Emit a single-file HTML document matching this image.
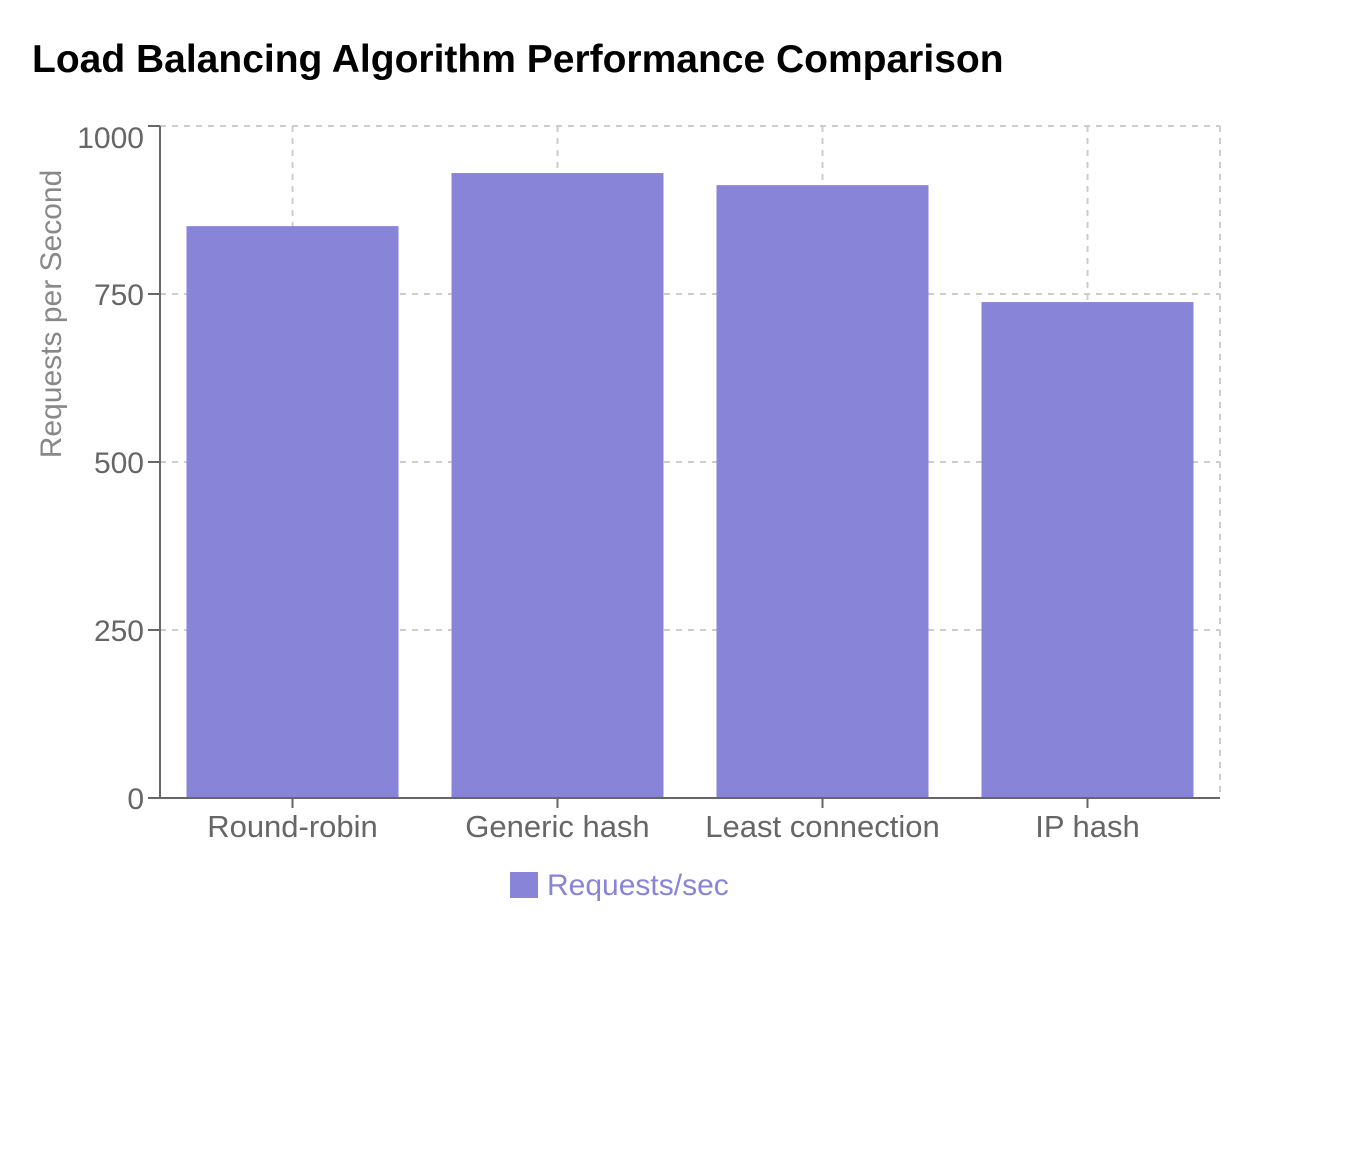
<!DOCTYPE html>
<html><head><meta charset="utf-8"><style>
html,body{margin:0;padding:0;background:#fff;width:1346px;height:1165px;overflow:hidden}
svg{display:block;font-family:"Liberation Sans",sans-serif}
</style></head><body>
<svg id="chart" width="1346" height="1165">
<text x="32" y="72" font-size="39" font-weight="bold" fill="#000">Load Balancing Algorithm Performance Comparison</text>
<g id="grid"></g>
<g id="bars"></g>
<g id="axes"></g>
<text transform="translate(61,314) rotate(-90)" text-anchor="middle" font-size="30" fill="#888">Requests per Second</text>
<g>
<rect x="510" y="872" width="28" height="26" fill="#8884d8"></rect>
<text x="547" y="895" font-size="30" fill="#8884d8">Requests/sec</text>
</g>
</svg>
<script>
const categories=["Round-robin","Generic hash","Least connection","IP hash"];
const values=[851,930,912,738];
const yTicks=[0,250,500,750,1000];
const NS="http://www.w3.org/2000/svg";
const L=160,R=1220,T=126,B=798,yMax=1000;
const y=v=>B-(v/yMax)*(B-T);
const band=(R-L)/categories.length;
const xc=i=>L+band*(i+0.5);
function mk(tag,attrs,parent){const e=document.createElementNS(NS,tag);for(const k in attrs)e.setAttribute(k,attrs[k]);parent.appendChild(e);return e;}
const grid=document.getElementById('grid'),bars=document.getElementById('bars'),axes=document.getElementById('axes');
yTicks.forEach(t=>{if(t===0)return;const l=mk('line',{x1:L,x2:R,y1:y(t),y2:y(t),stroke:'#ccc','stroke-dasharray':'6 6','stroke-width':2},grid);

});
categories.forEach((c,i)=>{const l=mk('line',{x1:xc(i),x2:xc(i),y1:T,y2:B,stroke:'#ccc','stroke-dasharray':'6 6','stroke-width':2},grid);

});
const rl=mk('line',{x1:R,x2:R,y1:T,y2:B,stroke:'#ccc','stroke-dasharray':'6 6','stroke-width':2},grid);


values.forEach((v,i)=>{const w=band*0.8;const r=mk('rect',{x:xc(i)-w/2,y:y(v),width:w,height:B-y(v),fill:'#8884d8'},bars);

});
const ya=mk('line',{x1:L,x2:L,y1:T,y2:B,stroke:'#666','stroke-width':2},axes);


const xa=mk('line',{x1:L,x2:R,y1:B,y2:B,stroke:'#666','stroke-width':2},axes);


yTicks.forEach(t=>{const tk=mk('line',{x1:L-12,x2:L,y1:y(t),y2:y(t),stroke:'#666','stroke-width':2},axes);


const off=(t===yMax)?22:11;
const tx=mk('text',{x:L-16,y:y(t)+off,'text-anchor':'end','font-size':30,fill:'#666'},axes);tx.textContent=t;

});
categories.forEach((c,i)=>{const tk=mk('line',{x1:xc(i),x2:xc(i),y1:B,y2:B+10,stroke:'#666','stroke-width':2},axes);


const tx=mk('text',{x:xc(i),y:B+39,'text-anchor':'middle','font-size':31,fill:'#666'},axes);tx.textContent=c;

});
</script>
</body></html>
